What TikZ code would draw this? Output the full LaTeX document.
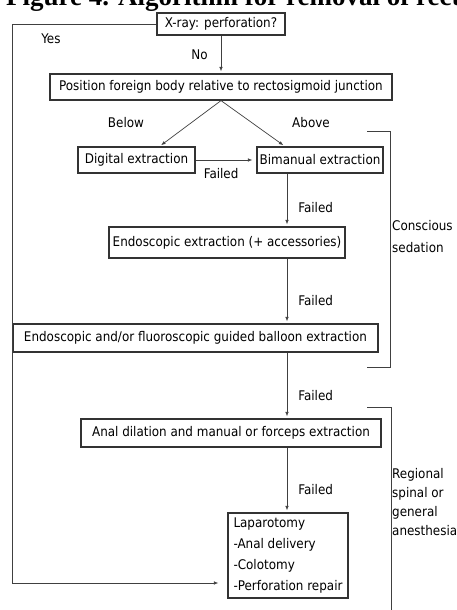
\documentclass[tikz,border=0pt]{standalone}
\usepackage{fontspec}
\setmainfont{DejaVu Sans Condensed}
\newfontfamily\titlefont{Liberation Serif}
\usetikzlibrary{arrows.meta,positioning,calc}

\begin{document}
\begin{tikzpicture}[
  x=1pt, y=-1pt,
  font=\fontsize{13.3}{16}\selectfont,
  stepbox/.style={draw=black!80, line width=1.2pt, inner sep=2pt, minimum height=26pt, fill=white},
  arrow/.style={-{Latex[length=4.5pt,width=3.5pt]}, draw=black!75, line width=0.7pt, shorten >=2pt},
  bracket/.style={draw=black!75, line width=1pt},
  lbl/.style={inner sep=0pt},
  note/.style={align=left, inner sep=0pt, anchor=base west}
]
\useasboundingbox (0,0) rectangle (457,610);
\node[anchor=base west, inner sep=0pt, font=\titlefont\bfseries\fontsize{27}{30}\selectfont] (title) at (6,6) {Figure 4. Algorithm for removal of rectal};

% boxes
\node[stepbox, minimum width=128pt, minimum height=22pt] (xray) at (221,24) {X-ray: perforation?};
\node[stepbox, minimum width=342pt] (pos) at (221,87) {Position foreign body relative to rectosigmoid junction};
\node[stepbox, minimum width=117pt] (digital) at (136.5,160) {Digital extraction};
\node[stepbox, minimum width=126pt] (biman) at (320,160) {Bimanual extraction};
\node[stepbox, minimum width=236pt, minimum height=31pt] (endo) at (227,242.5) {Endoscopic extraction (+ accessories)};
\node[stepbox, minimum width=365pt, minimum height=28pt] (balloon) at (195.5,338) {Endoscopic and/or fluoroscopic guided balloon extraction};
\node[stepbox, minimum width=300pt, minimum height=28pt] (anal) at (231,433) {Anal dilation and manual or forceps extraction};
\node[stepbox, minimum width=120pt, minimum height=85pt, align=left, font=\fontsize{13.3}{20.7}\selectfont] (lap) at (288,555.5) {Laparotomy\\-Anal delivery\\-Colotomy\\-Perforation repair};

% connectors
\draw[arrow] (xray.south) -- node[lbl, left=13pt] (no) {No} (pos.north);
\draw[arrow] (pos.south) -- ([xshift=23pt]digital.north);
\draw[arrow] (pos.south) -- ([xshift=-35pt]biman.north);
\node[lbl] (below) at (126,123) {Below};
\node[lbl] (above) at (311,123) {Above};
\draw[arrow, shorten >=4pt] (digital.east) -- node[lbl, below=8pt, pos=0.42] (f0) {Failed} (biman.west);
\draw[arrow] ([xshift=-33pt]biman.south) coordinate (f1) -- node[lbl, right=11pt, pos=0.64] {Failed} (f1 |- endo.north);
\draw[arrow] (f1 |- endo.south) coordinate (f2) -- node[lbl, right=11pt, pos=0.64] {Failed} (f2 |- balloon.north);
\draw[arrow] (f1 |- balloon.south) coordinate (f3) -- node[lbl, right=11pt, pos=0.66] {Failed} (f3 |- anal.north);
\draw[arrow] (f1 |- anal.south) coordinate (f4) -- node[lbl, right=11pt, pos=0.64] {Failed} (f4 |- lap.north);
\coordinate (yescorner) at (12,583);
\draw[arrow, shorten >=9pt] (xray.west) -| (yescorner) -- (yescorner -| lap.west);
\node[lbl] (yes) at (51,39) {Yes};

% sedation brackets
\draw[bracket] (367,131) -- (390,131) -- (390,367) -- (367,367);
\draw[bracket] (367,407) -- (391,407) -- (391,615);
\node[note, font=\fontsize{13.3}{22}\selectfont] (sedation) at (392,252) {Conscious\\sedation};
\node[note, font=\fontsize{13.3}{19}\selectfont] (anesthesia) at (392,535) {Regional\\spinal or\\general\\anesthesia};
\end{tikzpicture}
\end{document}
